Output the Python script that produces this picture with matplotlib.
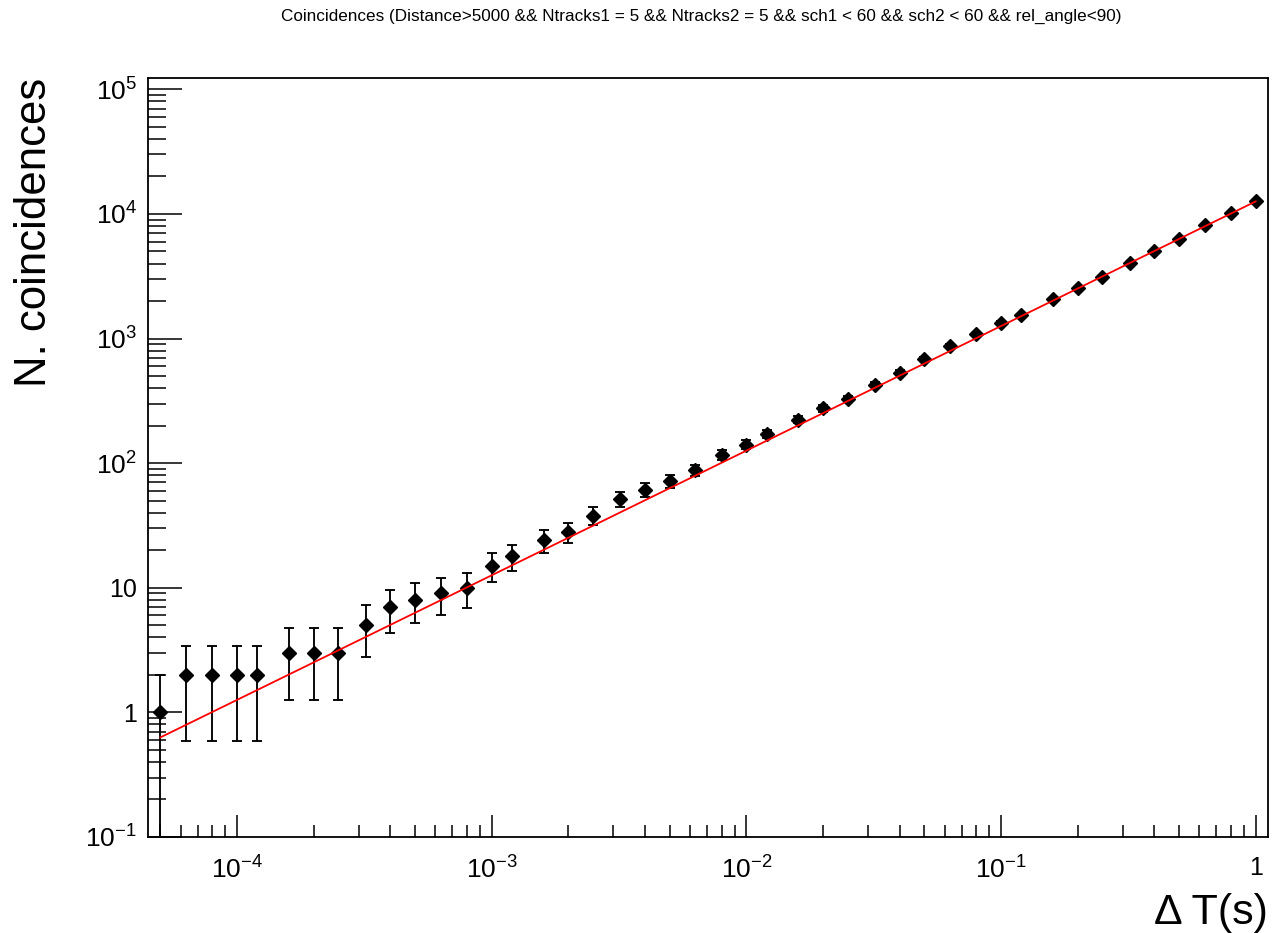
import numpy as np
import matplotlib
matplotlib.use("Agg")
import matplotlib.pyplot as plt
from matplotlib import ticker

plt.rcParams['font.family'] = ['Liberation Sans', 'DejaVu Sans']
plt.rcParams['mathtext.fontset'] = 'custom'
plt.rcParams['mathtext.rm'] = 'Liberation Sans'
plt.rcParams['mathtext.it'] = 'Liberation Sans:italic'
plt.rcParams['mathtext.bf'] = 'Liberation Sans:bold'
plt.rcParams['mathtext.default'] = 'regular'

# ---- data ----
delta_t = [5e-5, 6.3e-5, 8e-5,
           1e-4, 1.2e-4, 1.6e-4, 2e-4, 2.5e-4, 3.2e-4, 4e-4, 5e-4, 6.3e-4, 8e-4,
           1e-3, 1.2e-3, 1.6e-3, 2e-3, 2.5e-3, 3.2e-3, 4e-3, 5e-3, 6.3e-3, 8e-3,
           1e-2, 1.2e-2, 1.6e-2, 2e-2, 2.5e-2, 3.2e-2, 4e-2, 5e-2, 6.3e-2, 8e-2,
           0.1, 0.12, 0.16, 0.2, 0.25, 0.32, 0.4, 0.5, 0.63, 0.8,
           1.0]
counts = [1, 2, 2,
          2, 2, 3, 3, 3, 5, 7, 8, 9, 10,
          15, 18, 24, 28, 38, 52, 61, 72, 88, 117,
          141, 171, 224, 276, 330, 427, 533, 690, 872, 1085,
          1340, 1535, 2089, 2524, 3117, 4037, 5060, 6281, 8185, 10145,
          12735]
errors = np.sqrt(np.array(counts, dtype=float))

fit_x = [5e-5, 1.0]
fit_y = [0.63, 12600]

x_major_ticks = [1e-4, 1e-3, 1e-2, 1e-1, 1.0]
y_major_ticks = [1e-1, 1.0, 1e1, 1e2, 1e3, 1e4, 1e5]

title = "Coincidences (Distance>5000 && Ntracks1 = 5 && Ntracks2 = 5 && sch1 < 60 && sch2 < 60 && rel_angle<90)"
xlabel = "Δ T(s)"
ylabel = "N. coincidences"

W, H = 1288, 933
fig = plt.figure(figsize=(W / 100, H / 100), dpi=100)
left, right, top, bottom = 148, 1267.5, 77.7, 837
ax = fig.add_axes([left / W, 1 - bottom / H, (right - left) / W, (bottom - top) / H])

ax.set_xscale('log')
ax.set_yscale('log')

ax.errorbar(delta_t, counts, yerr=errors, fmt='D', color='black', ms=7,
            mec='black', mfc='black', elinewidth=1.35, capsize=3.4, capthick=1.35,
            zorder=3)
ax.plot(fit_x, fit_y, color='#ff0000', lw=1.3, zorder=4)

ax.set_xlim(4.47e-5, 1.113)
ax.set_ylim(0.1, 1.24e5)

for s in ax.spines.values():
    s.set_linewidth(1.3)
    s.set_color('black')

def fmt(v, pos):
    e = int(round(np.log10(v)))
    if e == 0:
        return '1'
    if e == 1:
        return '10'
    return r'$10^{%d}$' % e

ax.xaxis.set_major_locator(ticker.FixedLocator(x_major_ticks))
ax.yaxis.set_major_locator(ticker.FixedLocator(y_major_ticks))
ax.xaxis.set_minor_locator(ticker.LogLocator(base=10, subs=np.arange(2, 10), numticks=40))
ax.yaxis.set_minor_locator(ticker.LogLocator(base=10, subs=np.arange(2, 10), numticks=40))
ax.xaxis.set_major_formatter(ticker.FuncFormatter(fmt))
ax.yaxis.set_major_formatter(ticker.FuncFormatter(fmt))
ax.xaxis.set_minor_formatter(ticker.NullFormatter())
ax.yaxis.set_minor_formatter(ticker.NullFormatter())

ax.tick_params(axis='both', which='both', direction='in', top=False, right=False,
               width=1.1, color='black')
ax.tick_params(axis='y', which='major', length=24.5, pad=8, labelsize=19)
ax.tick_params(axis='y', which='minor', length=13)
ax.tick_params(axis='x', which='major', length=15.6, pad=14, labelsize=19)
ax.tick_params(axis='x', which='minor', length=8.4)

fig.canvas.draw()
for lab in ax.get_xticklabels() + ax.get_yticklabels():
    if lab.get_text() in ('1', '10'):
        lab.set_fontsize(18)

# axis titles
fig.text(1268 / W, 1 - 924 / H, xlabel, ha='right', va='baseline', fontsize=31)
fig.text(34.5 / W, 1 - 78 / H, ylabel, rotation=90, ha='center', va='top', fontsize=31.5)

# title fitted to width
t = fig.text(701.5 / W, 1 - 16 / H, title, ha='center', va='center', fontsize=10)
r = fig.canvas.get_renderer()
w = t.get_window_extent(renderer=r).width
t.set_fontsize(10 * 837 / w)

fig.savefig('out.png', dpi=100)
